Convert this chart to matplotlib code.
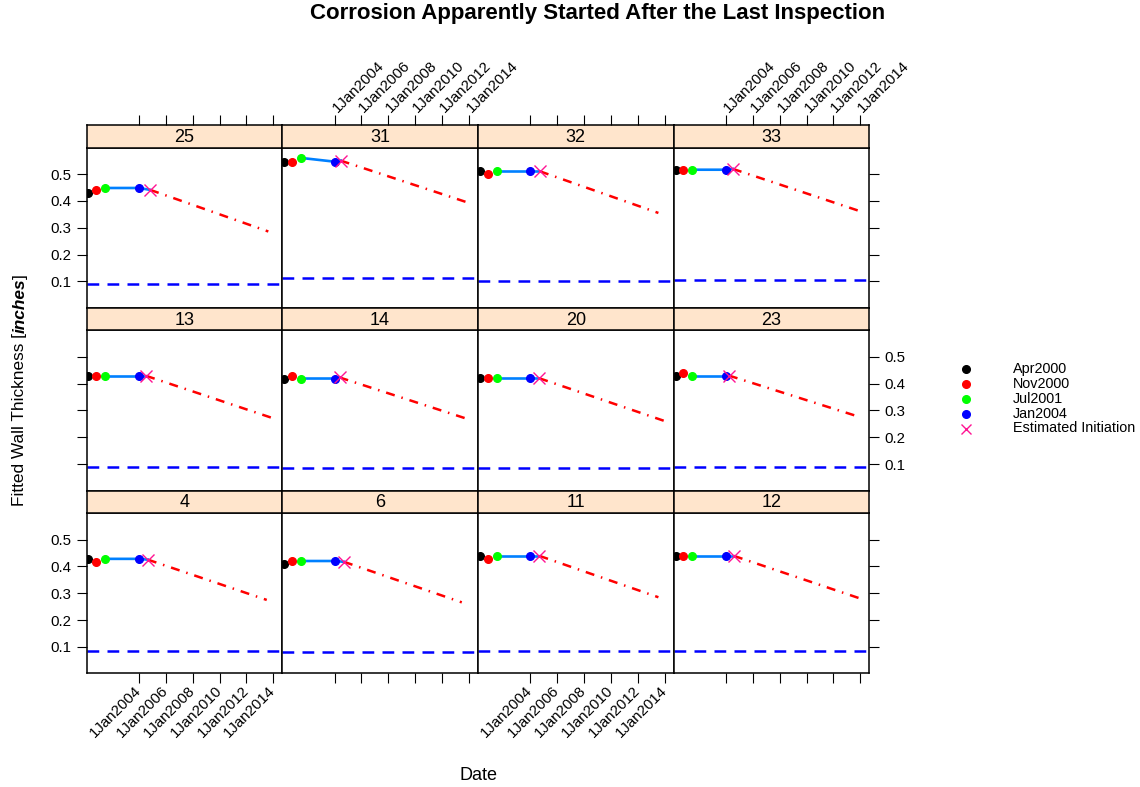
import matplotlib
matplotlib.use('Agg')
import matplotlib.pyplot as plt
import matplotlib.dates as mdates
from matplotlib.lines import Line2D

plt.rcParams['font.family'] = ['Liberation Sans', 'DejaVu Sans']

# panels in display order (top row first), lattice layout 4 x 3
panel_ids = ['25', '31', '32', '33',
             '13', '14', '20', '23',
             '4', '6', '11', '12']

inspection_dates = ['2000-04-01', '2000-11-01', '2001-07-01', '2004-01-01']
inspection_names = ['Apr2000', 'Nov2000', 'Jul2001', 'Jan2004']
inspection_colors = ['black', 'red', '#00FF00', 'blue']

apr2000 = [0.428, 0.546, 0.510, 0.516, 0.429, 0.419, 0.420, 0.430, 0.428, 0.410, 0.439, 0.439]
nov2000 = [0.439, 0.546, 0.500, 0.516, 0.429, 0.429, 0.420, 0.440, 0.418, 0.420, 0.427, 0.439]
jul2001 = [0.448, 0.560, 0.510, 0.516, 0.429, 0.419, 0.420, 0.430, 0.428, 0.420, 0.439, 0.439]
jan2004 = [0.448, 0.546, 0.510, 0.516, 0.429, 0.419, 0.420, 0.430, 0.428, 0.420, 0.439, 0.439]

# estimated corrosion initiation and projected thickness
init_dates = ['2004-11-03', '2004-06-13', '2004-09-20', '2004-07-08',
              '2004-07-16', '2004-05-15', '2004-09-01', '2004-03-20',
              '2004-09-01', '2004-09-12', '2004-09-08', '2004-08-04']
init_values = [0.441, 0.550, 0.510, 0.519, 0.429, 0.423, 0.420, 0.430, 0.425, 0.417, 0.439, 0.439]
proj_dates = ['2013-08-20', '2013-11-03', '2013-07-15', '2014-01-04',
              '2013-12-28', '2013-10-16', '2014-01-15', '2013-10-23',
              '2013-07-08', '2013-06-20', '2013-07-15', '2014-01-04']
proj_values = [0.286, 0.395, 0.355, 0.361, 0.271, 0.270, 0.260, 0.278, 0.275, 0.266, 0.285, 0.280]
min_thickness = [0.090, 0.112, 0.103, 0.105, 0.088, 0.086, 0.086, 0.088, 0.084, 0.081, 0.0865, 0.0865]

x_tick_years = [2004, 2006, 2008, 2010, 2012, 2014]
y_ticks = [0.1, 0.2, 0.3, 0.4, 0.5]

W, H = 1140, 787
fig = plt.figure(figsize=(W / 100, H / 100), dpi=100)


def fig_rect(x0, y0, x1, y1):
    # pixel box with top-left origin -> figure fractions
    return [x0 / W, 1 - y1 / H, (x1 - x0) / W, (y1 - y0) / H]


col_left, col_w = 86.5, 195.7
row_top, row_h, strip_h = 125.0, 182.75, 22.7
xlim = (mdates.datestr2num('2000-02-08'), mdates.datestr2num('2014-09-01'))
ylim = (0.002, 0.598)
xticks = [mdates.datestr2num(f'{y}-01-01') for y in x_tick_years]
xlabels = [f'1Jan{y}' for y in x_tick_years]
insp_x = [mdates.datestr2num(d) for d in inspection_dates]
series = [apr2000, nov2000, jul2001, jan2004]

tick_kw = dict(direction='out', length=7, width=0.8, labelsize=10.8, pad=4)

for i, pid in enumerate(panel_ids):
    r, c = divmod(i, 4)
    x0 = col_left + c * col_w
    y0 = row_top + r * row_h
    ax = fig.add_axes(fig_rect(x0, y0 + strip_h, x0 + col_w, y0 + row_h))
    sx = fig.add_axes(fig_rect(x0, y0, x0 + col_w, y0 + strip_h), sharex=ax)

    ax.axhline(min_thickness[i], color='blue', lw=1.8, ls=(0, (4.7, 3.3)), zorder=1)
    xi = mdates.datestr2num(init_dates[i])
    xp = mdates.datestr2num(proj_dates[i])
    ax.plot([xi, xp], [init_values[i], proj_values[i]], color='red', lw=1.8,
            ls=(0, (3.6, 2.8, 0.6, 2.8)), zorder=2)
    ax.plot([insp_x[2], insp_x[3], xi], [jul2001[i], jan2004[i], init_values[i]],
            color='#0080FF', lw=1.9, zorder=3)
    for xd, vals, col in zip(insp_x, series, inspection_colors):
        ax.plot(xd, vals[i], 'o', color=col, ms=5.5, mec=col, zorder=4)
    ax.plot(xi, init_values[i], 'x', color='#FF1493', ms=8, mew=1.0, zorder=5)

    ax.set_xlim(*xlim)
    ax.set_ylim(*ylim)
    ax.set_xticks(xticks, labels=xlabels)
    ax.set_yticks(y_ticks, labels=[f'{v:.1f}' for v in y_ticks])
    for a in (ax, sx):
        for s in a.spines.values():
            s.set_linewidth(1.1)

    # x axis: ticks outside the outer rows, labels alternate between columns
    ax.tick_params(axis='x', **tick_kw, top=False, labeltop=False,
                   bottom=(r == 2), labelbottom=(r == 2 and c in (0, 2)))
    sx.tick_params(axis='x', **tick_kw, bottom=False, labelbottom=False,
                   top=(r == 0), labeltop=(r == 0 and c in (1, 3)))
    sx.set_yticks([])
    sx.set_facecolor('#FFE5CC')
    sx.text(0.5, 0.45, pid, transform=sx.transAxes, ha='center', va='center',
            fontsize=13)

    # y axis: ticks on outer columns, labels alternate between rows
    if c == 0:
        ax.tick_params(axis='y', **tick_kw, left=True, labelleft=(r != 1),
                       right=False, labelright=False)
    elif c == 3:
        ax.tick_params(axis='y', **tick_kw, right=True, labelright=(r == 1),
                       left=False, labelleft=False)
    else:
        ax.tick_params(axis='y', left=False, labelleft=False,
                       right=False, labelright=False)

    plt.setp(ax.get_xticklabels(), rotation=45, ha='right', va='center',
             rotation_mode='anchor')
    plt.setp(sx.get_xticklabels(), rotation=45, ha='left', va='center',
             rotation_mode='anchor')

fig.text(598 / W, 1 - 14 / H, 'Corrosion Apparently Started After the Last Inspection',
         ha='center', va='center', fontsize=16, fontweight='bold')
fig.text(478 / W, 1 - 775 / H, 'Date', ha='center', va='center', fontsize=13)

# y label with bold italic unit
renderer = fig.canvas.get_renderer()
parts = [('Fitted Wall Thickness [', 'normal', 'normal'),
         ('inches', 'bold', 'italic'),
         (']', 'normal', 'normal')]
texts = [fig.text(20 / W, 0, t, rotation=90, ha='center', va='bottom', fontsize=12.4,
                  fontweight=wt, fontstyle=st) for t, wt, st in parts]
heights = [t.get_window_extent(renderer).height / fig.bbox.height for t in texts]
ypos = (1 - 390 / H) - sum(heights) / 2
for t, h in zip(texts, heights):
    t.set_y(ypos)
    ypos += h

# key
key_labels = inspection_names + ['Estimated Initiation']
key_y0, key_step = 369.3, 14.8
for k, lab in enumerate(key_labels):
    yk = 1 - (key_y0 + k * key_step) / H
    if k < 4:
        m = Line2D([966 / W], [yk], marker='o', ls='none', color=inspection_colors[k],
                   ms=5.5, transform=fig.transFigure)
    else:
        m = Line2D([966 / W], [yk], marker='x', ls='none', color='#FF1493',
                   ms=7, mew=1.0, transform=fig.transFigure)
    fig.add_artist(m)
    fig.text(1013 / W, yk, lab, ha='left', va='center', fontsize=10.4)

fig.savefig('out.png', dpi=100)
